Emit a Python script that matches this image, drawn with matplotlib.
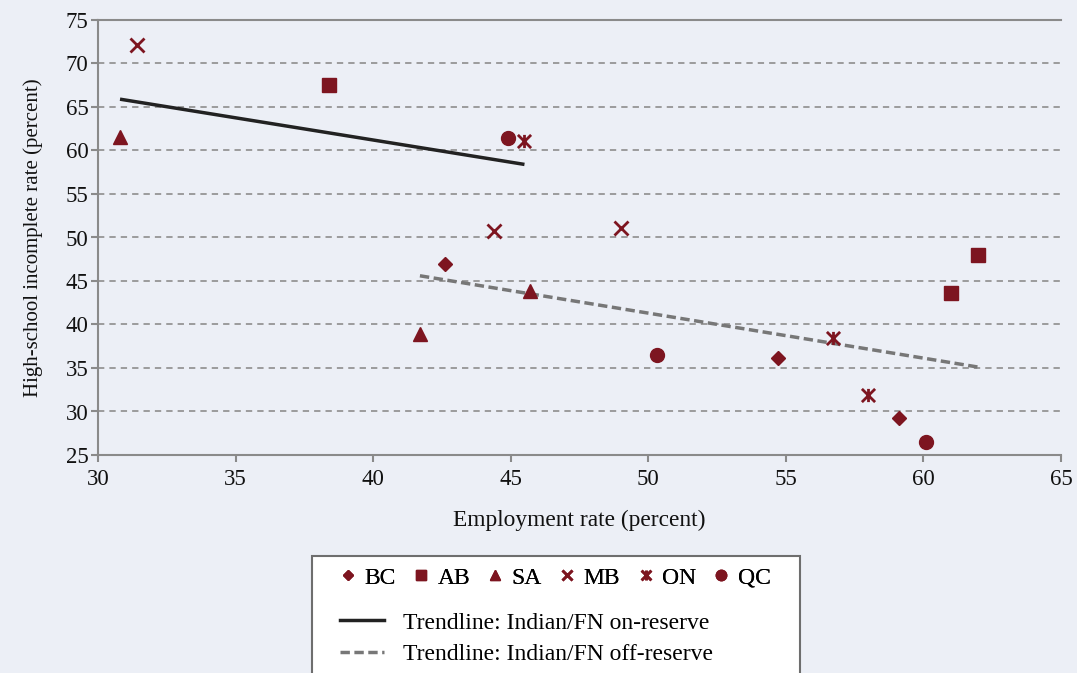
import numpy as np
import matplotlib.pyplot as plt
from matplotlib.path import Path
from matplotlib.lines import Line2D
from matplotlib.patches import Rectangle

# Datos por provincia (tasa de empleo, tasa de secundaria incompleta)
bc_x = [42.6, 54.7, 59.1]
bc_y = [46.9, 36.2, 29.2]
ab_x = [38.4, 61.0, 62.0]
ab_y = [67.5, 43.6, 48.0]
sa_x = [30.8, 41.7, 45.7]
sa_y = [61.6, 38.9, 43.8]
mb_x = [31.4, 44.4, 49.0]
mb_y = [72.1, 50.7, 51.1]
on_x = [45.5, 56.7, 58.0]
on_y = [61.1, 38.4, 31.9]
qc_x = [44.9, 50.3, 60.1]
qc_y = [61.4, 36.5, 26.5]

# Lineas de tendencia
trend_on_x = [30.8, 45.5]
trend_on_y = [65.9, 58.4]
trend_off_x = [41.7, 62.0]
trend_off_y = [45.6, 35.1]

rojo = '#7d1520'
fondo = '#eceff6'
gris = '#8a8a8a'
guion = (0, (2.7, 1.3))

plt.rcParams['font.family'] = ['Liberation Serif', 'DejaVu Serif']

# Marcador ON: aspa con barra vertical
ast = Path([(-1, -1), (1, 1), (-1, 1), (1, -1), (0, -1), (0, 1)],
           [Path.MOVETO, Path.LINETO, Path.MOVETO, Path.LINETO, Path.MOVETO, Path.LINETO])

fig = plt.figure(figsize=(10.77, 6.73), dpi=100, facecolor=fondo)
ax = fig.add_axes([98 / 1077, 1 - 455 / 673, 963 / 1077, 435 / 673])
ax.set_facecolor(fondo)

ax.plot(trend_on_x, trend_on_y, color='#222222', lw=2.5, solid_capstyle='butt')
ax.plot(trend_off_x, trend_off_y, color='#777777', lw=2.5, ls=guion)

ax.plot(bc_x, bc_y, ls='none', marker='D', ms=6.8, color=rojo)
ax.plot(ab_x, ab_y, ls='none', marker='s', ms=10.5, color=rojo)
ax.plot(sa_x, sa_y, ls='none', marker='^', ms=10.5, color=rojo)
ax.plot(mb_x, mb_y, ls='none', marker='x', ms=9.5, mew=2, color=rojo)
ax.plot(on_x, on_y, ls='none', marker=ast, ms=9.5, mew=2, color=rojo, mfc='none')
ax.plot(qc_x, qc_y, ls='none', marker='o', ms=10, color=rojo)

ax.set_xlim(30, 65)
ax.set_ylim(25, 75)
ax.set_xticks(np.arange(30, 66, 5))
ax.set_yticks(np.arange(25, 76, 5))
for y in range(30, 75, 5):
    ax.axhline(y, color='#959595', lw=1.3, ls=(0, (3.5, 2.8)), zorder=0)

for s in ['left', 'bottom', 'top']:
    ax.spines[s].set_color(gris)
    ax.spines[s].set_linewidth(1.5)
ax.spines['right'].set_visible(False)
ax.tick_params(colors=gris, labelcolor='#111111', labelsize=16.5, length=5, width=1.5)
ax.tick_params(axis='x', pad=5)
ax.tick_params(axis='y', pad=2)

ax.set_xlabel('Employment rate (percent)', fontsize=16.8, color='#111111', labelpad=14)
ax.set_ylabel('High-school incomplete rate (percent)', fontsize=15, color='#111111', labelpad=16)

# Caja de la leyenda
caja = Rectangle((312 / 1077, -0.05), 488 / 1077, 1 - 556 / 673 + 0.05,
                 transform=fig.transFigure, facecolor='white', edgecolor='#6e6e6e', lw=1.5)
fig.patches.append(caja)

mk = dict(ls='none', color=rojo)
h1 = [Line2D([], [], marker='D', ms=5.5, **mk),
      Line2D([], [], marker='s', ms=7.5, **mk),
      Line2D([], [], marker='^', ms=7.5, **mk),
      Line2D([], [], marker='x', ms=7, mew=2, **mk),
      Line2D([], [], marker=ast, ms=7, mew=2, mfc='none', **mk),
      Line2D([], [], marker='o', ms=7.5, **mk)]
leg1 = fig.legend(h1, ['BC', 'AB', 'SA', 'MB', 'ON', 'QC'], ncol=6, frameon=False,
                  loc='center left', bbox_to_anchor=(337 / 1077, 1 - 578 / 673),
                  fontsize=17, handlelength=0.9, handletextpad=0.25, columnspacing=0.62,
                  borderaxespad=0, borderpad=0)

h2 = [Line2D([], [], color='#222222', lw=2.5),
      Line2D([], [], color='#777777', lw=2.5, ls=guion)]
leg2 = fig.legend(h2, ['Trendline: Indian/FN on-reserve', 'Trendline: Indian/FN off-reserve'],
                  frameon=False, loc='upper left', bbox_to_anchor=(340 / 1077, 1 - 612 / 673),
                  fontsize=17, handlelength=1.85, handletextpad=0.8, labelspacing=0.42,
                  borderaxespad=0, borderpad=0)
fig.add_artist(leg1)

fig.savefig('out.png', dpi=100, facecolor=fondo)
